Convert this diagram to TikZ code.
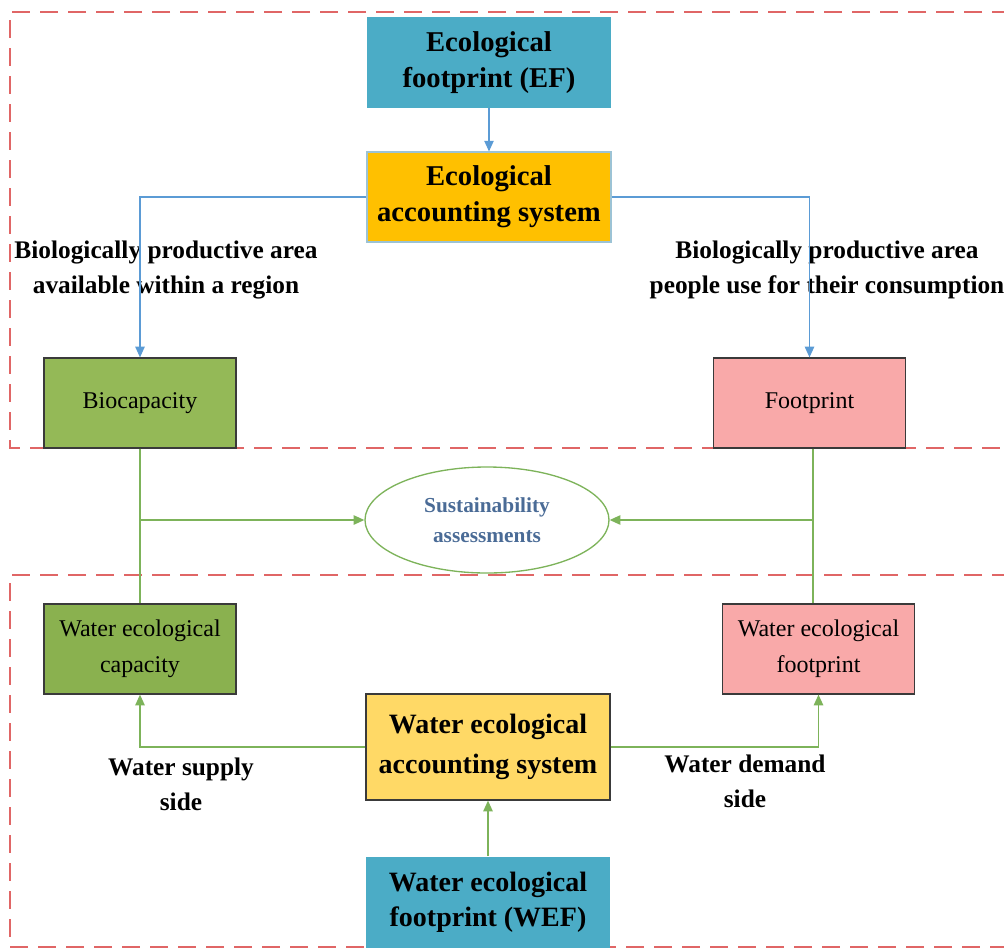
\documentclass[tikz,border=0pt]{standalone}
\usepackage{fontspec}
\setmainfont{Liberation Serif}
\usetikzlibrary{arrows.meta,shapes.geometric}
\definecolor{tealbox}{HTML}{4BACC6}
\definecolor{orangebox}{HTML}{FFC000}
\definecolor{greenbox}{HTML}{94B957}
\definecolor{greenboxb}{HTML}{8AB14F}
\definecolor{pinkbox}{HTML}{F9A9A9}
\definecolor{yellowbox}{HTML}{FFD966}
\definecolor{bluearrow}{HTML}{5B9BD5}
\definecolor{greenarrow}{HTML}{7DB35A}
\definecolor{dashred}{HTML}{E06666}
\definecolor{elltext}{HTML}{4A6B96}
\definecolor{borderdark}{HTML}{3A3A3A}
\definecolor{borderlight}{HTML}{9CC3D5}
\tikzset{
  region/.style={draw=dashred,line width=1.8pt,dash pattern=on 13.5pt off 7.5pt},
  boldbox/.style={align=center,inner sep=0pt,minimum width=183pt,
    font=\bfseries\fontsize{21.5pt}{27pt}\selectfont},
  plainbox/.style={align=center,inner sep=0pt,minimum width=144pt,minimum height=67.5pt,
    draw=borderdark,line width=0.9pt,font=\fontsize{18pt}{27pt}\selectfont},
  lbl/.style={align=center,inner sep=0pt,font=\bfseries\fontsize{19pt}{26pt}\selectfont},
  bluearr/.style={draw=bluearrow,line width=1pt,-{Triangle[length=8pt,width=7pt]}},
  greenline/.style={draw=greenarrow,line width=1.1pt},
  greenarr/.style={greenline,-{Triangle[length=8pt,width=7pt]}},
}
\begin{document}
\begin{tikzpicture}[x=0.75pt,y=-0.75pt]
\useasboundingbox (0,0) rectangle (1004,951);
% dashed regions
\draw[region] (1010,12) -- (10,12) -- (10,448) -- (1010,448);
\draw[region] (1010,575) -- (10,575) -- (10,947) -- (1010,947);

% nodes
\node[boldbox,fill=tealbox,minimum height=68.25pt] (EF) at (489,62.5) {Ecological\\footprint (EF)};
\node[boldbox,fill=orangebox,draw=borderlight,line width=0.8pt,minimum height=67.5pt] (ESA) at (489,197) {Ecological\\accounting system};
\node[plainbox,fill=greenbox] (Bio) at (140,403) {Biocapacity};
\node[plainbox,fill=pinkbox] (Foot) at (809.5,403) {Footprint};
\node[ellipse,draw=greenarrow,line width=1pt,minimum width=183pt,minimum height=79.5pt,inner sep=0pt,
  align=center,text=elltext,font=\bfseries\fontsize{16pt}{22.5pt}\selectfont] (Ell) at (487,520) {Sustainability\\assessments};
\node[plainbox,fill=greenboxb] (WEC) at (140,649) {Water ecological\\capacity};
\node[plainbox,fill=pinkbox] (WEFp) at (818.5,649) {Water ecological\\footprint};
\node[boldbox,fill=yellowbox,draw=borderdark,line width=0.9pt,minimum height=79.5pt,
  font=\bfseries\fontsize{21pt}{30pt}\selectfont] (WEAS) at (488,747) {Water ecological\\accounting system};
\node[boldbox,fill=tealbox,minimum height=68.25pt,
  font=\bfseries\fontsize{21pt}{26pt}\selectfont] (WEF) at (488,902) {Water ecological\\footprint (WEF)};

% labels
\node[lbl] (lblL) at (166,270) {Biologically productive area\\available within a region};
\node[lbl] (lblR) at (827,270) {Biologically productive area\\people use for their consumption};
\node[lbl] (lblS) at (181,784) {Water supply\\side};
\node[lbl] (lblD) at (745,781) {Water demand\\side};

% connectors
\draw[bluearr] (EF.south) -- (ESA.north);
\draw[bluearr] (ESA.west) -| (Bio.north);
\draw[bluearr] (ESA.east) -| (Foot.north);

\coordinate (jl) at (Bio.south |- Ell.west);
\coordinate (jr) at (813,520);
\draw[greenline] (Bio.south) -- (WEC.north);
\draw[greenarr] (jl) -- (Ell.west);
\draw[greenline] (Foot.south -| jr) -- (WEFp.north -| jr);
\draw[greenarr] (jr) -- (Ell.east);

\draw[greenarr] (WEAS.west) -| (WEC.south);
\draw[greenarr] (WEAS.east) -| (WEFp.south);
\draw[greenarr] (WEF.north) -- (WEAS.south);
\end{tikzpicture}
\end{document}
